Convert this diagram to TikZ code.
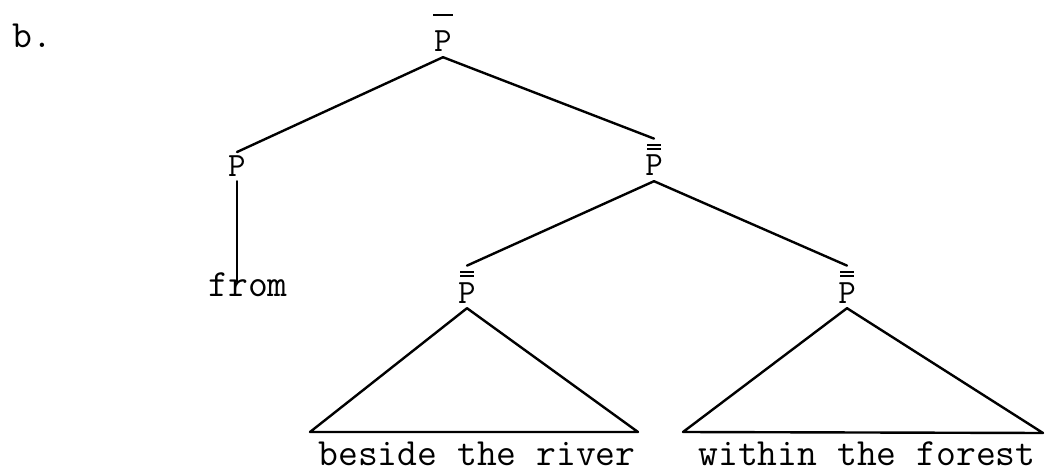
\documentclass[tikz,border=0pt]{standalone}
\newcommand{\Pfont}{\fontsize{34}{38}\selectfont\ttfamily}
\newcommand{\Pone}{\vbox{\offinterlineskip\hbox to 21pt{\hss\vrule width 20pt height 1.9pt\hss}\kern 15.3pt\hbox to 21pt{\hss\Pfont P\hss}}}
\newcommand{\Ptwo}{\vbox{\offinterlineskip\hbox to 21pt{\hss\vrule width 14pt height 1.8pt\hss}\kern 2.2pt\hbox to 21pt{\hss\vrule width 14pt height 1.8pt\hss}\kern 5.6pt\hbox to 21pt{\hss\Pfont P\hss}}}
\tikzset{
  every node/.style={font=\fontsize{38.5}{44}\selectfont\ttfamily},
  cat/.style={inner xsep=0pt, inner ysep=5pt, anchor=base},
  word/.style={inner sep=0pt, anchor=base},
  branch/.style={line width=2.4pt, line cap=round, line join=round}
}
\begin{document}
\begin{tikzpicture}[x=1pt,y=-1pt]
\useasboundingbox (0,0) rectangle (1050,473);
\node[word, anchor=base west] (lbl) at (12,48) {b.};
\node[cat] (p0) at (443,52) {\Pone};
\node[inner xsep=0pt, inner ysep=4pt, anchor=base, font=\Pfont] (p1) at (237,177) {P};
\node[cat] (p2) at (654,176) {\Ptwo};
\node[cat] (p3) at (467,303) {\Ptwo};
\node[cat] (p4) at (847,303) {\Ptwo};
\node[word, text height=15pt] (from) at (248,297) {from};
\node[word] (w1) at (477,465) {beside the river};
\node[word] (w2) at (867,465) {within the forest};
\coordinate (b1l) at (310,432);
\coordinate (b1r) at (638,432);
\coordinate (b2l) at (683,432);
\coordinate (b2r) at (1043,433);
\draw[branch] (p0.south) -- (p1.north);
\draw[branch] (p0.south) -- (p2.north);
\draw[branch] (p1.south) -- (p1.south |- from.north);
\draw[branch] (p2.south) -- (p3.north);
\draw[branch] (p2.south) -- (p4.north);
\draw[branch] (p3.south) -- (b1l) -- (b1r) -- cycle;
\draw[branch] (p4.south) -- (b2l) -- (b2r) -- cycle;
\end{tikzpicture}
\end{document}
